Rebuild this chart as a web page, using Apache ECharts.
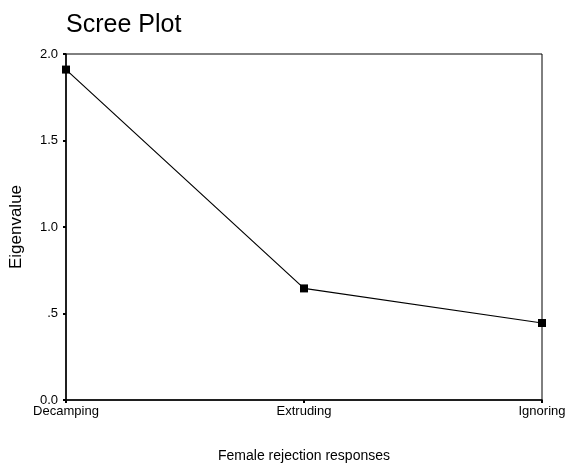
<!DOCTYPE html>
<html>
<head>
<meta charset="utf-8">
<script src="https://cdn.jsdelivr.net/npm/echarts@6/dist/echarts.min.js"></script>
<style>
html,body{margin:0;padding:0;background:#fff;}
#chart{width:566px;height:469px;}
</style>
</head>
<body>
<div id="chart"></div>
<script>
const categories = ["Decamping", "Extruding", "Ignoring"];
const eigenvalues = [1.91, 0.645, 0.445];
const yTickLabels = {"0": "0.0", "0.5": ".5", "1": "1.0", "1.5": "1.5", "2": "2.0"};

const chart = echarts.init(document.getElementById('chart'), null, {renderer: 'canvas'});
const font = 'Arial, "Liberation Sans", sans-serif';
chart.setOption({
  animation: false,
  backgroundColor: '#fff',
  title: {
    text: 'Scree Plot',
    left: 61, top: 8,
    textStyle: {fontFamily: font, fontSize: 25, fontWeight: 'normal', color: '#000'}
  },
  grid: {
    left: 66, right: 24, top: 54, bottom: 69,
    outerBoundsMode: 'none',
    containLabel: false,
    show: true, borderColor: '#000', borderWidth: 1, backgroundColor: 'transparent'
  },
  xAxis: {
    type: 'category',
    data: categories,
    boundaryGap: false,
    name: 'Female rejection responses',
    nameLocation: 'middle',
    nameGap: 49,
    nameTextStyle: {fontFamily: font, fontSize: 14, color: '#000'},
    axisLine: {lineStyle: {color: '#000', width: 1.5}},
    axisTick: {show: true, length: 3, lineStyle: {color: '#000', width: 2}},
    axisLabel: {fontFamily: font, fontSize: 13, color: '#000', margin: 5, interval: 0},
    splitLine: {show: false}
  },
  yAxis: {
    type: 'value',
    min: 0, max: 2, interval: 0.5,
    name: 'Eigenvalue',
    nameLocation: 'middle',
    nameGap: 41,
    nameTextStyle: {fontFamily: font, fontSize: 17, color: '#000'},
    axisLine: {show: true, lineStyle: {color: '#000', width: 1.5}},
    axisTick: {show: true, length: 3, lineStyle: {color: '#000', width: 2}},
    axisLabel: {
      fontFamily: font, fontSize: 13, color: '#000', margin: 8,
      formatter: v => yTickLabels[String(v)] ?? String(v)
    },
    splitLine: {show: false}
  },
  series: [{
    type: 'line',
    data: eigenvalues,
    symbol: 'rect',
    symbolSize: 8,
    itemStyle: {color: '#000'},
    lineStyle: {color: '#000', width: 1.2},
    z: 5
  }]
});
</script>
</body>
</html>
